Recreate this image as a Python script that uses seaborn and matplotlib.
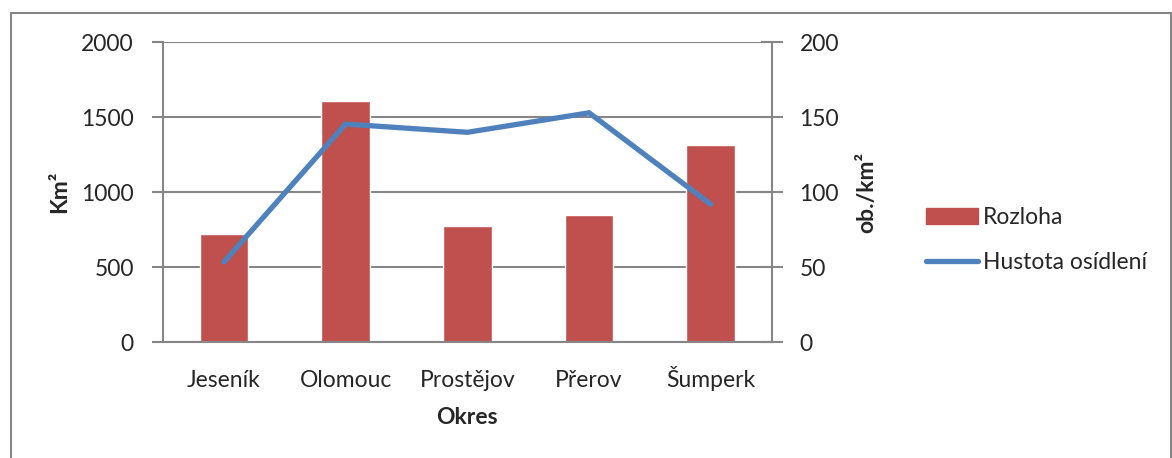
import numpy as np
import pandas as pd
import matplotlib.pyplot as plt
import matplotlib.patches as mpatches
from matplotlib.lines import Line2D
import seaborn as sns

# data
okresy = ['Jeseník', 'Olomouc', 'Prostějov', 'Přerov', 'Šumperk']
rozloha = [719, 1610, 777, 852, 1313]          # km2
hustota = [53.5, 145.5, 140, 153, 92]          # ob./km2

df = pd.DataFrame({'okres': okresy, 'rozloha': rozloha, 'hustota': hustota})

sns.set_style('white')
plt.rcParams['font.family'] = ['Lato', 'DejaVu Sans']
fs = 16.5
plt.rcParams['font.size'] = fs

red = '#C0504D'
blue = '#4F81BD'
grey = '#868686'

fig = plt.figure(figsize=(11.72, 4.58), dpi=100)
ax = fig.add_axes([163 / 1172, 1 - 342.3 / 458, (771.7 - 163) / 1172, 300 / 458])

sns.barplot(data=df, x='okres', y='rozloha', color=red, width=0.4,
            saturation=1, ax=ax, zorder=2)
ax.set_xlim(-0.5, len(okresy) - 0.5)
ax.set_ylim(0, 2000)
ax.set_yticks([0, 500, 1000, 1500, 2000])
ax.yaxis.grid(True, color=grey, linewidth=1.5, zorder=0)
ax.set_axisbelow(True)

for s in ['top', 'right']:
    ax.spines[s].set_visible(False)
for s in ['left', 'bottom']:
    ax.spines[s].set_color(grey)
    ax.spines[s].set_linewidth(1.5)

# x ticks sit between categories
ax.set_xticks(np.arange(len(okresy) + 1) - 0.5, minor=True)
ax.tick_params(axis='x', which='minor', length=9, width=1.5, color=grey, direction='out')
ax.tick_params(axis='x', which='major', length=0, pad=32, labelsize=fs)
for t in ax.get_xticklabels():
    t.set_verticalalignment('baseline')
ax.tick_params(axis='y', length=8, width=1.5, color=grey, direction='out', pad=13, labelsize=fs)
ax.set_xlabel('Okres', fontweight='bold', fontsize=fs, labelpad=12)
ax.set_ylabel('Km²', fontweight='bold', fontsize=fs, labelpad=8)

ax2 = ax.twinx()
sns.lineplot(data=df, x='okres', y='hustota', color=blue, linewidth=3.8,
             sort=False, ax=ax2, solid_capstyle='round', solid_joinstyle='miter')
ax2.set_ylim(0, 200)
ax2.set_yticks([0, 50, 100, 150, 200])
for s in ['top', 'left', 'bottom']:
    ax2.spines[s].set_visible(False)
ax2.spines['right'].set_color(grey)
ax2.spines['right'].set_linewidth(1.5)
ax2.tick_params(axis='y', which='both', direction='inout', length=16, width=1.5,
                color=grey, pad=12, labelsize=fs)
ax2.set_ylabel('ob./km²', fontweight='bold', fontsize=fs, labelpad=12)

handles = [mpatches.Patch(color=red), Line2D([], [], color=blue, linewidth=3.8, solid_capstyle='round')]
fig.legend(handles, ['Rozloha', 'Hustota osídlení'], loc='center left',
           bbox_to_anchor=(905 / 1172, 1 - 240 / 458), frameon=False,
           handlelength=2.3, handleheight=0.65, handletextpad=0.2,
           labelspacing=1.05, fontsize=fs)

# outer chart border
fig.patches.append(mpatches.Rectangle((10.5 / 1172, -0.1), (1171 - 10.5) / 1172,
                                      1.1 - 13.3 / 458, transform=fig.transFigure,
                                      fill=False, edgecolor=grey, linewidth=1.5))

fig.savefig('out.png', dpi=100)
